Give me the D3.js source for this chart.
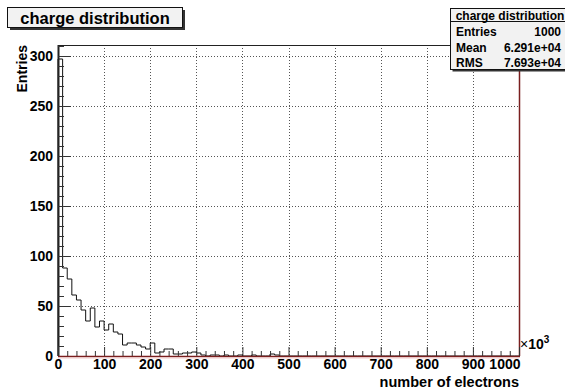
<!DOCTYPE html>
<html>
<head>
<meta charset="utf-8">
<script src="https://cdn.jsdelivr.net/npm/d3@7"></script>
<style>
  html, body { margin: 0; padding: 0; background: #fff; }
  svg { display: block; font-family: "Liberation Sans", Arial, Helvetica, sans-serif; }
</style>
</head>
<body>
<svg id="chart" width="565" height="392"></svg>
<script>
// ---- data ----
const histTitle = "charge distribution";
const xTitle = "number of electrons";
const yTitle = "Entries";
const xMultiplier = "3";           // ×10^3
const binWidth = 10;               // thousands of electrons
const binCounts = [
  297, 88, 77, 61, 56, 46, 35, 48, 29, 35,
  26, 32, 24, 22, 11, 13, 13, 11, 9, 7,
  13, 3, 4, 7, 7, 2, 2, 3, 3, 4,
  3, 1, 0, 1, 1, 0, 1, 0, 0, 1,
  0, 0, 1, 0, 0, 0, 2, 1, 0, 0,
  0, 0, 0, 0, 0, 0, 0, 0, 0, 0,
  0, 0, 0, 0, 0, 0, 0, 0, 0, 0,
  0, 0, 0, 0, 0, 0, 0, 0, 0, 0,
  0, 0, 0, 0, 0, 0, 0, 0, 0, 0,
  0, 0, 0, 0, 0, 0, 0, 0, 0, 0
];
const xDomain = [0, 1000];
const yDomain = [0, 311];
const xMajorTicks = [0, 100, 200, 300, 400, 500, 600, 700, 800, 900, 1000];
const yMajorTicks = [0, 50, 100, 150, 200, 250, 300];
const statLabels = ["Entries", "Mean", "RMS"];
const statValues = ["1000", "6.291e+04", "7.693e+04"];

// ---- layout ----
const svg = d3.select("#chart");
const pLeft = 58, pRight = 519, pTop = 45, pBottom = 356;
const x = d3.scaleLinear().domain(xDomain).range([pLeft, pRight]);
const y = d3.scaleLinear().domain(yDomain).range([pBottom, pTop]);

// grid (dotted)
const grid = svg.append("g").attr("stroke", "#555").attr("stroke-width", 1)
  .attr("stroke-dasharray", "1,2").attr("fill", "none");
xMajorTicks.filter(t => t > xDomain[0] && t < xDomain[1]).forEach(t => {
  grid.append("line").attr("x1", Math.round(x(t)) + 0.5).attr("x2", Math.round(x(t)) + 0.5)
    .attr("y1", pTop).attr("y2", pBottom);
});
yMajorTicks.filter(t => t > 0).forEach(t => {
  grid.append("line").attr("y1", Math.round(y(t)) + 0.5).attr("y2", Math.round(y(t)) + 0.5)
    .attr("x1", pLeft).attr("x2", pRight);
});

// histogram outline
const pts = [[0, 0]];
binCounts.forEach((c, i) => {
  pts.push([i * binWidth, c]);
  pts.push([(i + 1) * binWidth, c]);
});
pts.push([binCounts.length * binWidth, 0]);
svg.append("path")
  .attr("d", d3.line().x(d => x(d[0])).y(d => y(d[1]))(pts))
  .attr("fill", "none").attr("stroke", "#111").attr("stroke-width", 1);

// frame
svg.append("line").attr("x1", pLeft).attr("x2", pRight).attr("y1", pTop + 0.5).attr("y2", pTop + 0.5)
  .attr("stroke", "#222").attr("stroke-width", 1);
svg.append("line").attr("x1", pLeft + 0.5).attr("x2", pLeft + 0.5).attr("y1", pTop).attr("y2", pBottom)
  .attr("stroke", "#222").attr("stroke-width", 2);
svg.append("line").attr("x1", pRight + 0.5).attr("x2", pRight + 0.5).attr("y1", pTop).attr("y2", pBottom)
  .attr("stroke", "#7a1f1f").attr("stroke-width", 1.5);

// y axis
const yAxisMajor = d3.axisLeft(y).tickValues(yMajorTicks).tickSizeInner(-13).tickSizeOuter(0)
  .tickPadding(5).tickFormat(d3.format("d"));
const yMinor = d3.range(yDomain[0], 311, 10).filter(v => v % 50 !== 0);
const yAxisMinor = d3.axisLeft(y).tickValues(yMinor).tickSizeInner(-6).tickSizeOuter(0).tickFormat("");
const gyMinor = svg.append("g").attr("transform", `translate(${pLeft},0)`).call(yAxisMinor);
const gy = svg.append("g").attr("transform", `translate(${pLeft},0)`).call(yAxisMajor);
[gy, gyMinor].forEach(g => { g.select(".domain").remove(); g.selectAll("line").attr("stroke", "#333"); });
gy.selectAll("text").attr("font-size", 14).attr("font-weight", "bold").attr("fill", "#000");

// x axis
const xAxisMajor = d3.axisBottom(x).tickValues(xMajorTicks).tickSizeInner(-9).tickSizeOuter(0)
  .tickPadding(3).tickFormat(d3.format("d"));
const xMinor = d3.range(xDomain[0], 1001, 20).filter(v => v % 100 !== 0);
const xAxisMinor = d3.axisBottom(x).tickValues(xMinor).tickSizeInner(-5).tickSizeOuter(0).tickFormat("");
const gxMinor = svg.append("g").attr("transform", `translate(0,${pBottom})`).call(xAxisMinor);
const gx = svg.append("g").attr("transform", `translate(0,${pBottom})`).call(xAxisMajor);
[gx, gxMinor].forEach(g => { g.select(".domain").remove(); g.selectAll("line").attr("stroke", "#333"); });
gx.selectAll("text").attr("font-size", 14).attr("font-weight", "bold").attr("fill", "#000")
  .attr("text-anchor", d => d === xDomain[1] ? "end" : "middle")
  .attr("dx", d => d === xDomain[1] ? 1 : 0);
// axis line (reddish as in reference)
svg.append("line").attr("x1", pLeft).attr("x2", pRight + 1).attr("y1", pBottom + 0.5).attr("y2", pBottom + 0.5)
  .attr("stroke", "#7a1f1f").attr("stroke-width", 1.5);
svg.append("line").attr("x1", pLeft).attr("x2", pRight).attr("y1", pBottom + 2).attr("y2", pBottom + 2)
  .attr("stroke", "#f3c9c9").attr("stroke-width", 1);

// ×10^3
const mult = svg.append("text").attr("x", pRight + 1).attr("y", 349).attr("font-size", 14).attr("fill", "#000");
mult.append("tspan").text("×").attr("font-weight", "normal");
mult.append("tspan").text("10").attr("font-weight", "bold");
mult.append("tspan").text(xMultiplier).attr("font-weight", "bold").attr("font-size", 10).attr("dy", -6);

// axis titles
svg.append("text").attr("x", pRight).attr("y", 387).attr("text-anchor", "end")
  .attr("font-size", 14.5).attr("font-weight", "bold").attr("fill", "#000").text(xTitle);
svg.append("text").attr("transform", `translate(27,${pTop}) rotate(-90)`).attr("text-anchor", "end")
  .attr("font-size", 14).attr("font-weight", "bold").attr("fill", "#000").text(yTitle);

// title box
svg.append("rect").attr("x", 10).attr("y", 10).attr("width", 175).attr("height", 20).attr("fill", "#333");
svg.append("rect").attr("x", 7.5).attr("y", 7.5).attr("width", 175).attr("height", 20)
  .attr("fill", "#f2f2f2").attr("stroke", "#111").attr("stroke-width", 1);
svg.append("text").attr("x", 95).attr("y", 23.5).attr("text-anchor", "middle")
  .attr("font-size", 16.5).attr("font-weight", "bold").attr("fill", "#000").text(histTitle);

// stats box
const sx = 450.5, sy = 8.5, sw = 118, sh = 61;
svg.append("rect").attr("x", sx + 2).attr("y", sy + 2).attr("width", sw).attr("height", sh).attr("fill", "#333");
svg.append("rect").attr("x", sx).attr("y", sy).attr("width", sw).attr("height", sh)
  .attr("fill", "#f2f2f2").attr("stroke", "#111").attr("stroke-width", 1);
svg.append("line").attr("x1", sx).attr("x2", sx + sw).attr("y1", 21.5).attr("y2", 21.5)
  .attr("stroke", "#111").attr("stroke-width", 1);
svg.append("text").attr("x", 510).attr("y", 19.5).attr("text-anchor", "middle")
  .attr("font-size", 12).attr("font-weight", "bold").attr("fill", "#000").text(histTitle);
const rowY = [35.5, 52, 66.5];
statLabels.forEach((lab, i) => {
  svg.append("text").attr("x", 456).attr("y", rowY[i]).attr("font-size", 12)
    .attr("font-weight", "bold").attr("fill", "#000").text(lab);
  svg.append("text").attr("x", 561).attr("y", rowY[i]).attr("text-anchor", "end").attr("font-size", 12)
    .attr("font-weight", "bold").attr("fill", "#000").text(statValues[i]);
});
</script>
</body>
</html>
